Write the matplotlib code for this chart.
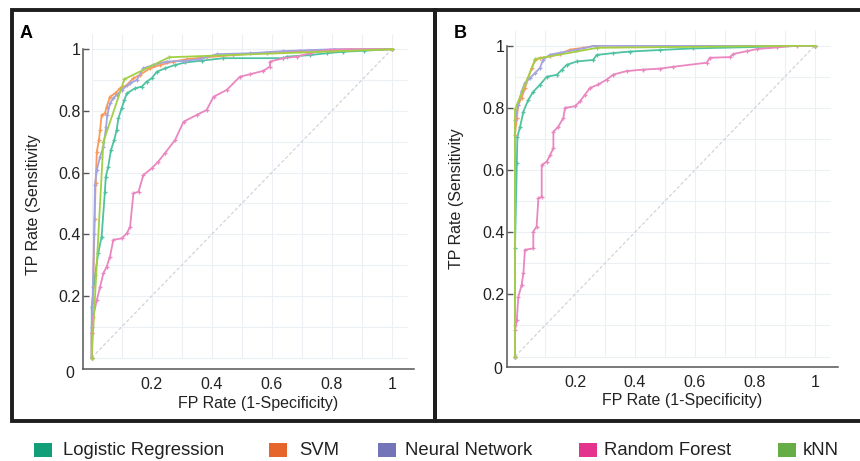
import numpy as np
import matplotlib
matplotlib.use('Agg')
import matplotlib.pyplot as plt
from matplotlib.patches import Rectangle

plt.rcParams['font.family'] = ['Liberation Sans', 'DejaVu Sans']

# legend names
models = ['Logistic Regression', 'SVM', 'Neural Network', 'Random Forest', 'kNN']

# panel A  (FP rate, TP rate)
a_lr_x = [0, 0, 0.011, 0.022, 0.033, 0.044, 0.047, 0.055, 0.064, 0.075, 0.083, 0.089, 0.1, 0.109, 0.117,
          0.144, 0.167, 0.183, 0.2, 0.217, 0.244, 0.278, 0.311, 0.367, 0.439, 0.639, 0.65, 0.728, 0.783,
          0.839, 0.906, 1]
a_lr_y = [0, 0.165, 0.268, 0.34, 0.392, 0.538, 0.587, 0.619, 0.673, 0.706, 0.738, 0.776, 0.809, 0.836, 0.857,
          0.873, 0.879, 0.895, 0.906, 0.927, 0.938, 0.949, 0.957, 0.963, 0.971, 0.971, 0.976, 0.981, 0.987,
          0.992, 0.995, 1]
a_svm_x = [0, 0, 0.005, 0.01, 0.013, 0.017, 0.024, 0.028, 0.033, 0.044, 0.05, 0.061, 0.078, 0.094, 0.117,
           0.139, 0.161, 0.194, 0.228, 0.272, 0.317, 0.383, 0.472, 0.583, 0.694, 0.806, 1]
a_svm_y = [0, 0.08, 0.23, 0.45, 0.567, 0.668, 0.706, 0.738, 0.787, 0.792, 0.814, 0.846, 0.857, 0.873, 0.884,
           0.906, 0.917, 0.938, 0.949, 0.96, 0.968, 0.974, 0.981, 0.989, 0.994, 0.998, 1]
a_nn_x = [0, 0, 0.003, 0.008, 0.011, 0.017, 0.028, 0.039, 0.048, 0.052, 0.061, 0.072, 0.083, 0.1, 0.128,
          0.15, 0.172, 0.205, 0.25, 0.306, 0.361, 0.417, 0.528, 0.639, 0.806, 1]
a_nn_y = [0, 0.1, 0.18, 0.4, 0.56, 0.609, 0.652, 0.684, 0.749, 0.787, 0.825, 0.841, 0.852, 0.868, 0.89,
          0.9, 0.938, 0.949, 0.96, 0.962, 0.968, 0.984, 0.987, 0.994, 1.0, 1]
a_rf_x = [0, 0, 0.005, 0.017, 0.028, 0.039, 0.05, 0.061, 0.072, 0.1, 0.117, 0.128, 0.139, 0.156, 0.172,
          0.2, 0.222, 0.244, 0.278, 0.306, 0.35, 0.383, 0.406, 0.45, 0.494, 0.528, 0.572, 0.594, 0.594,
          0.639, 0.683, 0.728, 0.794, 0.861, 1]
a_rf_y = [0, 0.08, 0.133, 0.187, 0.23, 0.274, 0.295, 0.328, 0.382, 0.387, 0.403, 0.425, 0.533, 0.538, 0.592,
          0.614, 0.636, 0.663, 0.706, 0.765, 0.787, 0.803, 0.846, 0.868, 0.911, 0.919, 0.93, 0.944, 0.96,
          0.971, 0.976, 0.987, 0.998, 1, 1]
a_knn_x = [0, 0.039, 0.109, 0.258, 1]
a_knn_y = [0, 0.70, 0.903, 0.974, 1]

# panel B
b_lr_x = [0, 0, 0.006, 0.008, 0.017, 0.028, 0.044, 0.061, 0.083, 0.106, 0.139, 0.156, 0.172, 0.206, 0.261,
          0.272, 0.328, 0.383, 0.483, 0.594, 1]
b_lr_y = [0, 0.35, 0.622, 0.707, 0.739, 0.788, 0.825, 0.852, 0.874, 0.9, 0.906, 0.922, 0.938, 0.949, 0.954,
          0.97, 0.976, 0.981, 0.986, 0.991, 1]
b_svm_x = [0, 0, 0, 0.006, 0.011, 0.022, 0.033, 0.044, 0.056, 0.067, 0.083, 0.117, 0.15, 0.183, 0.228,
           0.272, 1]
b_svm_y = [0, 0.1, 0.714, 0.767, 0.81, 0.832, 0.864, 0.896, 0.928, 0.955, 0.96, 0.966, 0.973, 0.987, 0.993,
           1.0, 1]
b_nn_x = [0, 0, 0.011, 0.022, 0.033, 0.05, 0.067, 0.083, 0.094, 0.117, 0.15, 0.206, 0.267, 1]
b_nn_y = [0, 0.762, 0.81, 0.853, 0.88, 0.896, 0.912, 0.928, 0.955, 0.971, 0.977, 0.987, 1.0, 1]
b_rf_x = [0, 0, 0.006, 0.011, 0.022, 0.028, 0.033, 0.061, 0.061, 0.072, 0.078, 0.089, 0.089, 0.106, 0.117,
          0.128, 0.128, 0.144, 0.161, 0.167, 0.2, 0.217, 0.233, 0.25, 0.278, 0.306, 0.328, 0.372, 0.428,
          0.483, 0.528, 0.639, 0.65, 0.717, 0.728, 0.772, 0.806, 0.872, 0.939, 1]
b_rf_y = [0, 0.085, 0.117, 0.192, 0.23, 0.268, 0.343, 0.348, 0.402, 0.418, 0.509, 0.514, 0.616, 0.627, 0.648,
          0.67, 0.723, 0.739, 0.767, 0.8, 0.805, 0.821, 0.842, 0.864, 0.875, 0.891, 0.907, 0.918, 0.923,
          0.926, 0.932, 0.945, 0.961, 0.963, 0.973, 0.982, 0.989, 0.994, 1.0, 1]
b_knn_x = [0, 0, 0.068, 0.275, 1]
b_knn_y = [0, 0.795, 0.957, 0.993, 1]

tick_vals = [0.2, 0.4, 0.6, 0.8, 1.0]
tick_labels = ['0.2', '0.4', '0.6', '0.8', '1']

line_colors = ['#4fc3a1', '#fb9a5a', '#a3a3e0', '#ea86c0', '#a2d044']
legend_colors = ['#139e7a', '#e6652a', '#7474b8', '#e3338c', '#67ad45']

W, H = 860, 461
fig = plt.figure(figsize=(W / 100, H / 100), dpi=100)
fig.patch.set_facecolor('white')


def px_box(l, t, r, b):
    return [l / W, 1 - b / H, (r - l) / W, (b - t) / H]


def draw_panel(ax, curves, xlim, ylim, zero_pos):
    ax.set_xlim(*xlim)
    ax.set_ylim(*ylim)
    # light grid
    g = np.arange(0, 1.01, 0.1)
    ax.vlines(g, 0, 1.05, color='#eceff4', lw=0.8, zorder=0, clip_on=False)
    ax.hlines(g, 0, 1.05, color='#eceff4', lw=0.8, zorder=0, clip_on=False)
    ax.plot([0, 1], [0, 1], ls=(0, (3, 2)), color='#cfcfd4', lw=0.8, zorder=1)
    for i, (xs, ys) in enumerate(curves):
        ax.plot(xs, ys, color=line_colors[i], lw=1.3, zorder=2 + i)
        ax.plot(xs, ys, ls='none', marker='+', ms=3.5, mew=0.9, color=line_colors[i], zorder=2 + i)
    for s in ['top', 'right']:
        ax.spines[s].set_visible(False)
    for s in ['left', 'bottom']:
        ax.spines[s].set_color('#555555')
        ax.spines[s].set_linewidth(1.1)
    ax.spines['left'].set_bounds(ylim[0], 1.0)
    ax.set_xticks(tick_vals)
    ax.set_xticklabels(tick_labels)
    ax.set_yticks(tick_vals)
    ax.set_yticklabels(tick_labels)
    ax.tick_params(axis='x', length=0, pad=6, labelsize=11.5, labelcolor='#222222')
    ax.tick_params(axis='y', direction='in', length=4, width=1, color='#555555', pad=2,
                   labelsize=11.5, labelcolor='#222222')
    ax.text(zero_pos[0], zero_pos[1], '0', fontsize=11.5, color='#222222',
            ha='center', va='center', clip_on=False)
    ax.set_facecolor('none')


ax_a = fig.add_axes(px_box(83.3, 48, 414, 369))
draw_panel(ax_a,
           [(a_lr_x, a_lr_y), (a_svm_x, a_svm_y), (a_nn_x, a_nn_y), (a_rf_x, a_rf_y), (a_knn_x, a_knn_y)],
           (-0.028, 1.074), (-0.0366, 1.004), (-0.072, -0.05))

ax_b = fig.add_axes(px_box(507.3, 45, 838, 366.7))
draw_panel(ax_b,
           [(b_lr_x, b_lr_y), (b_svm_x, b_svm_y), (b_nn_x, b_nn_y), (b_rf_x, b_rf_y), (b_knn_x, b_knn_y)],
           (-0.0257, 1.077), (-0.0328, 1.002), (-0.056, -0.041))

# axis titles
fig.text(258 / W, 1 - 403 / H, 'FP Rate (1-Specificity)', fontsize=11.5, color='#222222', ha='center', va='center')
fig.text(682 / W, 1 - 400 / H, 'FP Rate (1-Specificity)', fontsize=11.5, color='#222222', ha='center', va='center')
fig.text(34 / W, 1 - 205 / H, 'TP Rate (Sensitivity', fontsize=11.5, color='#222222', ha='center', va='center',
         rotation=90)
fig.text(457 / W, 1 - 199 / H, 'TP Rate (Sensitivity', fontsize=11.5, color='#222222', ha='center', va='center',
         rotation=90)

# panel letters
fig.text(26.5 / W, 1 - 33 / H, 'A', fontsize=13, fontweight='bold', ha='center', va='center')
fig.text(460.5 / W, 1 - 33 / H, 'B', fontsize=13, fontweight='bold', ha='center', va='center')

# panel frames
fig.add_artist(Rectangle((12 / W, 1 - 420.5 / H), (435 - 12) / W, (420.5 - 10) / H, transform=fig.transFigure,
                         fill=False, ec='#1e1e1e', lw=2.8))
fig.add_artist(Rectangle((435 / W, 1 - 420.5 / H), (862 - 435) / W, (420.5 - 10) / H, transform=fig.transFigure,
                         fill=False, ec='#1e1e1e', lw=2.8, clip_on=False))

# legend row
patch_x = [34.3, 269, 378, 579, 778]
text_x = [63.3, 299, 405, 604, 803]
for i, name in enumerate(models):
    fig.add_artist(Rectangle((patch_x[i] / W, 1 - 457 / H), 18 / W, 14 / H, transform=fig.transFigure,
                             fc=legend_colors[i], ec='none'))
    fig.text(text_x[i] / W, 1 - 450 / H, name, fontsize=13.3, color='#222222', ha='left', va='center')

fig.savefig('out.png', dpi=100)
